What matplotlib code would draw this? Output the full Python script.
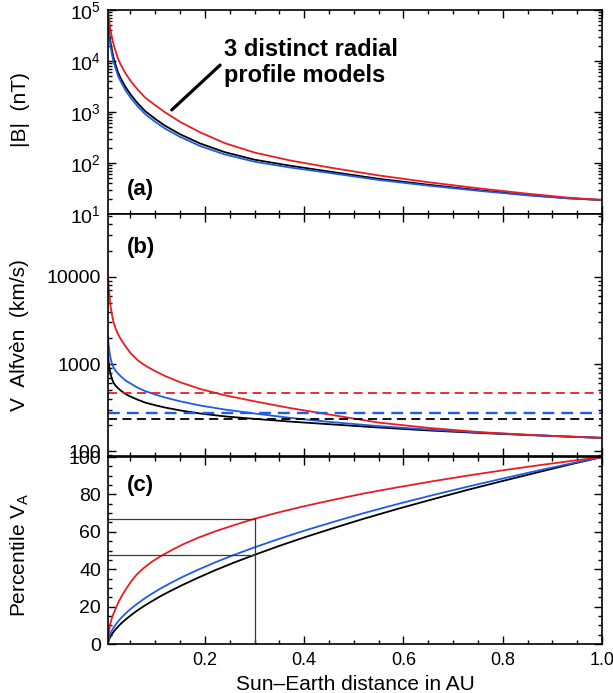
import matplotlib
matplotlib.use('Agg')
import matplotlib.pyplot as plt
from matplotlib.ticker import FixedLocator, MultipleLocator, LogLocator, NullFormatter

plt.rcParams['font.family'] = ['Liberation Sans', 'DejaVu Sans']
plt.rcParams['mathtext.fontset'] = 'custom'
plt.rcParams['mathtext.rm'] = 'Liberation Sans'
plt.rcParams['mathtext.default'] = 'regular'

# heliocentric distance (AU) for panels (a) and (b)
dist_au = [0.0047, 0.006, 0.008, 0.010, 0.013, 0.016, 0.020, 0.025, 0.030, 0.04,
           0.05, 0.065, 0.08, 0.10, 0.12, 0.15, 0.19, 0.24, 0.30, 0.37,
           0.45, 0.55, 0.65, 0.75, 0.85, 0.93, 1.0]

# |B| (nT) for the three radial profile models
b_black = [69000, 48400, 31000, 22300, 15600, 11350, 8400, 5950, 4650, 3080,
           2220, 1460, 1030, 730, 535, 366, 242, 163, 116, 89,
           68, 49, 37.5, 29.4, 23.6, 20.4, 18.8]
b_blue = [55000, 39000, 25500, 18500, 13000, 9600, 7200, 5100, 4000, 2650,
          1920, 1270, 900, 640, 470, 325, 216, 147, 106, 82,
          64, 46.5, 36, 28.6, 23.2, 20.3, 18.8]
b_red = [100000, 75000, 52000, 39000, 28000, 21000, 15500, 11000, 8600, 5700,
         4100, 2700, 1900, 1350, 980, 640, 400, 245, 160, 113,
         82, 57, 42, 32, 25, 21, 18.8]

# Alfven speed (km/s)
va_black = [1300, 1050, 870, 760, 670, 610, 565, 530, 500, 455,
            425, 390, 362, 338, 318, 295, 272, 252, 236, 220,
            205, 188, 174, 163, 154, 148, 143]
va_blue = [2080, 1650, 1350, 1160, 1000, 910, 840, 780, 730, 650,
           600, 535, 490, 448, 414, 375, 336, 302, 272, 243,
           218, 195, 178, 165, 155, 148, 143]
va_red = [9800, 7600, 5800, 4500, 3600, 3000, 2550, 2200, 1950, 1600,
          1340, 1100, 960, 830, 730, 620, 520, 440, 375, 315,
          265, 214, 186, 167, 155, 148, 143]

# reference speed levels (dashed)
va_ref_black = 238
va_ref_blue = 274
va_ref_red = 468

# percentile of V_A, on a finer distance grid
pct_dist = [0.0047, 0.0055, 0.0065, 0.0078, 0.0095, 0.0115, 0.014, 0.017, 0.021, 0.026,
            0.032, 0.04, 0.05, 0.062, 0.076, 0.092, 0.11, 0.13, 0.155, 0.185,
            0.22, 0.26, 0.30, 0.35, 0.40, 0.46, 0.52, 0.59, 0.66, 0.73,
            0.80, 0.87, 0.935, 1.0]
pct_black = [0, 1.3, 2.1, 3.0, 3.9, 4.8, 5.8, 6.9, 8.2, 9.6,
             11.2, 13.1, 15.2, 17.6, 20.1, 22.7, 25.5, 28.3, 31.6, 35.3,
             39.4, 43.7, 47.7, 52.5, 57.0, 62.1, 67.0, 72.4, 77.5, 82.5,
             87.2, 91.8, 96.0, 100]
pct_blue = [0, 2.1, 3.3, 4.4, 5.5, 6.7, 7.9, 9.2, 10.7, 12.4,
            14.2, 16.3, 18.7, 21.2, 23.9, 26.7, 29.6, 32.5, 35.9, 39.6,
            43.6, 47.8, 51.7, 56.3, 60.6, 65.4, 70.0, 75.0, 79.7, 84.2,
            88.5, 92.7, 96.4, 100]
pct_red = [0, 3, 6, 8.5, 11, 13, 15, 17, 19.5, 22.5,
           25.5, 29, 33, 37, 40.5, 43.8, 46.8, 49.8, 53.2, 56.7,
           60.2, 63.7, 67.0, 70.5, 73.7, 77.2, 80.5, 83.9, 87.1, 90.1,
           92.9, 95.5, 97.8, 100]

# guide lines in panel (c)
x_mark = 0.3
pct_mark_low = 47.7
pct_mark_high = 67.0

BLACK = 'black'
BLUE = '#1f5ce6'
RED = '#ea1c22'

fig = plt.figure(figsize=(6.13, 6.93), dpi=100)
left, width = 0.1762, 0.8059
ax_a = fig.add_axes([left, 0.6912, width, 0.2944])
ax_b = fig.add_axes([left, 0.3413, width, 0.3499])
ax_c = fig.add_axes([left, 0.0707, width, 0.2698])

lw = 1.3
for ax in (ax_a, ax_b, ax_c):
    ax.set_xlim(dist_au[0], 1.0)
    ax.xaxis.set_major_locator(FixedLocator([0.2, 0.4, 0.6, 0.8, 1.0]))
    ax.xaxis.set_minor_locator(MultipleLocator(0.05))
    ax.tick_params(which='both', direction='in', top=True, right=True, width=1.0,
                   labelsize=14, pad=5)
    ax.tick_params(which='major', length=6)
    ax.tick_params(which='minor', length=3)
    for s in ax.spines.values():
        s.set_linewidth(1.2)

# (a) field strength
ax_a.plot(dist_au, b_black, color=BLACK, lw=lw)
ax_a.plot(dist_au, b_blue, color=BLUE, lw=lw)
ax_a.plot(dist_au, b_red, color=RED, lw=lw)
ax_a.set_yscale('log')
ax_a.set_ylim(10, 1e5)
ax_a.yaxis.set_major_locator(FixedLocator([10, 100, 1000, 1e4, 1e5]))
ax_a.set_yticklabels(['$10^{1}$', '$10^{2}$', '$10^{3}$', '$10^{4}$', '$10^{5}$'])
ax_a.yaxis.set_minor_locator(LogLocator(base=10, subs=range(2, 10), numticks=20))
ax_a.yaxis.set_minor_formatter(NullFormatter())
ax_a.set_xticklabels([])
ax_a.annotate('', xy=(0.129, 0.51), xytext=(0.227, 0.73), xycoords='axes fraction',
              arrowprops=dict(arrowstyle='-', color='black', lw=2.3, shrinkA=0, shrinkB=0))

# (b) Alfven speed
ax_b.plot(dist_au, va_black, color=BLACK, lw=lw)
ax_b.plot(dist_au, va_blue, color=BLUE, lw=lw)
ax_b.plot(dist_au, va_red, color=RED, lw=lw)
ax_b.axhline(va_ref_red, color=RED, lw=1.3, ls=(0, (5, 3)))
ax_b.axhline(va_ref_blue, color=BLUE, lw=1.7, ls=(0, (5, 3)))
ax_b.axhline(va_ref_black, color=BLACK, lw=1.3, ls=(0, (5, 3)))
ax_b.set_yscale('log')
ax_b.set_ylim(87.5, 52500)
ax_b.yaxis.set_major_locator(FixedLocator([100, 1000, 10000]))
ax_b.set_yticklabels(['100', '1000', '10000'])
ax_b.yaxis.set_minor_locator(LogLocator(base=10, subs=range(2, 10), numticks=20))
ax_b.yaxis.set_minor_formatter(NullFormatter())
ax_b.set_xticklabels([])

# (c) percentile
ax_c.plot(pct_dist, pct_black, color=BLACK, lw=lw)
ax_c.plot(pct_dist, pct_blue, color=BLUE, lw=lw)
ax_c.plot(pct_dist, pct_red, color=RED, lw=lw)
ax_c.plot([pct_dist[0], x_mark], [pct_mark_high, pct_mark_high], color='#3a3a3a', lw=0.9)
ax_c.plot([pct_dist[0], x_mark], [pct_mark_low, pct_mark_low], color='#3a3a3a', lw=0.9)
ax_c.plot([x_mark, x_mark], [0, pct_mark_high], color='#3a3a3a', lw=0.9)
ax_c.set_ylim(0, 100)
ax_c.yaxis.set_major_locator(MultipleLocator(20))
ax_c.yaxis.set_minor_locator(MultipleLocator(5))
ax_c.set_xticklabels(['0.2', '0.4', '0.6', '0.8', '1.0'])
ax_c.tick_params(axis='x', pad=6, labelsize=13)

# axis titles and panel tags
W, H = 613.0, 693.0
fig.text(355 / W, 1 - 684 / H, 'Sun\u2013Earth distance in AU', ha='center', va='center', fontsize=15)
fig.text(20 / W, 1 - 110 / H, '|B|  (nT)', rotation=90, ha='center', va='center', fontsize=15)
fig.text(20 / W, 1 - 335 / H, 'V  Alfv\u00e8n  (km/s)', rotation=90, ha='center', va='center', fontsize=15)
fig.text(20 / W, 1 - 555 / H, 'Percentile V$_A$', rotation=90, ha='center', va='center', fontsize=15)
for tag, yc in (('(a)', 189), ('(b)', 247), ('(c)', 485)):
    fig.text(127 / W, 1 - yc / H, tag, ha='left', va='center', fontsize=16, fontweight='bold')
fig.text(224 / W, 1 - 38 / H, '3 distinct radial\nprofile models', ha='left', va='top',
         fontsize=17, fontweight='bold', linespacing=1.15)

fig.savefig('out.png', dpi=100)
